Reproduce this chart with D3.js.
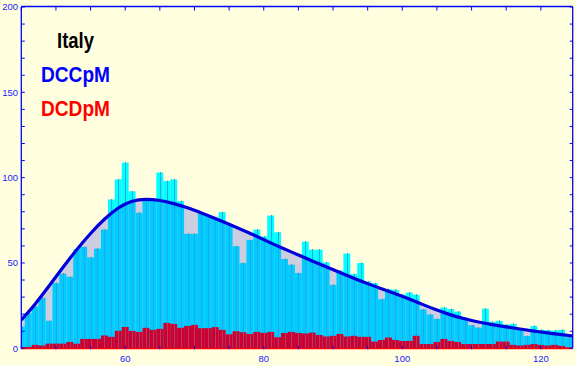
<!DOCTYPE html>
<html>
<head>
<meta charset="utf-8">
<script src="https://cdn.jsdelivr.net/npm/d3@7"></script>
<style>
  html, body { margin: 0; padding: 0; background: #FFFFE0; }
  svg { display: block; }
</style>
</head>
<body>
<div id="chart"></div>
<script>
// age (one bar per unit)
const ages = [45, 46, 47, 48, 49, 50, 51, 52, 53, 54, 55, 56, 57, 58, 59, 60, 61, 62, 63, 64,
  65, 66, 67, 68, 69, 70, 71, 72, 73, 74, 75, 76, 77, 78, 79, 80, 81, 82, 83, 84,
  85, 86, 87, 88, 89, 90, 91, 92, 93, 94, 95, 96, 97, 98, 99, 100, 101, 102, 103, 104,
  105, 106, 107, 108, 109, 110, 111, 112, 113, 114, 115, 116, 117, 118, 119, 120, 121, 122, 123, 124];

const dccpm = [12.7, 20.6, 24.5, 29.6, 16.1, 38.2, 43.7, 41.9, 58, 59.4,
  53.3, 58.4, 69.6, 87.2, 99, 108.8, 92, 79.4, 87.5, 87,
  103, 98, 99, 86.3, 67.1, 67.1, 79, 77.5, 76.5, 79.8,
  72, 59.8, 50, 63.5, 69.6, 65.5, 77.8, 68, 52.3, 49,
  44.1, 62.5, 57.8, 57.8, 50.4, 37.2, 45.5, 55.5, 43.5, 50,
  39.2, 38.2, 28.8, 34.7, 34.3, 31.5, 32.7, 31.4, 22.8, 19.8,
  17.2, 23.9, 23, 21.5, 18, 13.5, 12.1, 23.2, 15.5, 16.1,
  13.9, 14.3, 11.5, 7.2, 13.1, 10.8, 10.6, 10.4, 10.8, 6.5];

const dcdpm = [0.8, 0.8, 2, 1.6, 2.7, 2.7, 2.7, 3.7, 2.7, 5.5,
  5.5, 5.5, 7.5, 6.7, 10.2, 12.5, 10.2, 9.6, 12, 10.8,
  11.4, 14.9, 14.3, 12, 13.1, 13.7, 11.8, 11.8, 12.4, 10.8,
  8.2, 10, 9.4, 8.4, 9.6, 9, 9.6, 6.5, 9, 9.6,
  9, 8.7, 9.2, 7.8, 6.9, 7.3, 8.4, 6.9, 7.3, 6.7,
  6.7, 3.9, 4.9, 6.3, 4.9, 4.3, 4.3, 7.3, 2.5, 2.5,
  3.7, 5.5, 4.3, 3.7, 2.5, 2.5, 2.5, 2.5, 2.5, 3.9,
  3.9, 2, 1.6, 2, 2.5, 2, 1.6, 2, 1.4, 0.6];

// fitted curve
const fitX = [45, 47, 49, 51, 53, 55, 57, 59, 61, 63, 65, 67, 69, 71, 73, 75, 77, 79, 81, 83,
  85, 87, 89, 91, 93, 95, 97, 99, 101, 103, 105, 107, 109, 111, 113, 115, 117, 119, 121, 123, 124.6];
const fitY = [16.6, 26, 36.5, 47.3, 57.8, 67.3, 75.6, 82.2, 86.2, 87.3, 86.6, 84.8, 82.3, 79.3, 76.1, 72.7, 69.2, 65.6, 61.8, 58.2,
  54.7, 51.2, 47.8, 44.4, 41.1, 37.9, 34.9, 32.0, 28.9, 25.6, 22.4, 19.6, 17.3, 15.4, 13.9, 12.6, 11.3, 10.1, 9.0, 8.0, 7.2];

const xTicksLabeled = [60, 80, 100, 120];
const yTicksLabeled = [0, 50, 100, 150, 200];

const W = 576, H = 366;
const pLeft = 21.3, pRight = 572.7, pTop = 7, pBottom = 348.3;

const x = d3.scaleLinear().domain([45, 124.6]).range([pLeft, pRight]);
const y = d3.scaleLinear().domain([0, 200]).range([pBottom, pTop]);

const svg = d3.select("#chart").append("svg")
    .attr("width", W)
    .attr("height", H)
    .style("background", "#FFFFE0");

const defs = svg.append("defs");
const fit = fitX.map((v, i) => [v, fitY[i]]);
const smooth = d3.curveNatural;

// Clip regions: plot box, under the curve, above the curve
defs.append("clipPath").attr("id", "plot")
  .append("rect").attr("x", pLeft).attr("y", pTop).attr("width", pRight - pLeft).attr("height", pBottom - pTop);

const areaUnder = d3.area().x(d => x(d[0])).y0(y(0)).y1(d => y(d[1])).curve(smooth);
const areaOver = d3.area().x(d => x(d[0])).y0(pTop).y1(d => y(d[1])).curve(smooth);

defs.append("clipPath").attr("id", "under").append("path").attr("d", areaUnder(fit));
defs.append("clipPath").attr("id", "over").append("path").attr("d", areaOver(fit));

const g = svg.append("g").attr("clip-path", "url(#plot)");

// gray band under the curve
g.append("path").attr("d", areaUnder(fit)).attr("fill", "#CDCDE0");

const bars = ages.map((a, i) => ({ a: a, v: dccpm[i], r: dcdpm[i] }));

// bars below the curve
g.append("g").attr("clip-path", "url(#under)")
  .selectAll("rect").data(bars).join("rect")
    .attr("x", d => x(d.a - 0.5))
    .attr("width", d => x(d.a + 0.5) - x(d.a - 0.5))
    .attr("y", d => y(d.v))
    .attr("height", d => y(0) - y(d.v))
    .attr("fill", "#00CCFF");

// bar parts above the curve
g.append("g").attr("clip-path", "url(#over)")
  .selectAll("rect").data(bars).join("rect")
    .attr("x", d => x(d.a - 0.5))
    .attr("width", d => x(d.a + 0.5) - x(d.a - 0.5))
    .attr("y", d => y(d.v))
    .attr("height", d => y(0) - y(d.v))
    .attr("fill", "#00FFFF");

// center lines in the bars
g.append("g").selectAll("line").data(bars).join("line")
    .attr("x1", d => Math.round(x(d.a)) + 0.5)
    .attr("x2", d => Math.round(x(d.a)) + 0.5)
    .attr("y1", d => y(d.v))
    .attr("y2", y(0))
    .attr("stroke", "#22A8E6")
    .attr("stroke-width", 1);

// small caps on top of the bars
g.append("g").selectAll("rect").data(bars).join("rect")
    .attr("x", d => Math.round(x(d.a)))
    .attr("y", d => y(d.v) - 0.5)
    .attr("width", 1)
    .attr("height", 1.5)
    .attr("fill", "#7A8A99");

// red bars
g.append("g").selectAll("rect").data(bars).join("rect")
    .attr("x", d => x(d.a - 0.5))
    .attr("width", d => x(d.a + 0.5) - x(d.a - 0.5))
    .attr("y", d => y(d.r))
    .attr("height", d => y(0) - y(d.r))
    .attr("fill", "#CC0033");

g.append("g").selectAll("line").data(bars).join("line")
    .attr("x1", d => Math.round(x(d.a)) + 0.5)
    .attr("x2", d => Math.round(x(d.a)) + 0.5)
    .attr("y1", d => y(d.r))
    .attr("y2", y(0))
    .attr("stroke", "#B0405A")
    .attr("stroke-width", 1);

// fitted curve
g.append("path")
    .attr("d", d3.line().x(d => x(d[0])).y(d => y(d[1])).curve(smooth)(fit))
    .attr("fill", "none")
    .attr("stroke", "#0000DD")
    .attr("stroke-width", 3.2);

// frame
const blue = "#0000FF";
svg.append("line").attr("x1", pLeft).attr("x2", pLeft).attr("y1", pTop).attr("y2", pBottom).attr("stroke", blue).attr("stroke-width", 1.3);
svg.append("line").attr("x1", pRight).attr("x2", pRight).attr("y1", pTop).attr("y2", pBottom).attr("stroke", blue).attr("stroke-width", 1.3);
svg.append("line").attr("x1", pLeft).attr("x2", pRight).attr("y1", pTop - 0.5).attr("y2", pTop - 0.5).attr("stroke", blue).attr("stroke-width", 1.3);
svg.append("line").attr("x1", pLeft).attr("x2", pRight).attr("y1", pBottom + 0.3).attr("y2", pBottom + 0.3).attr("stroke", "#FF0000").attr("stroke-width", 1.3);

// ticks
const yMinor = d3.range(0, 201, 10);
const xMinor = d3.range(45, 125, 5);
svg.append("g").selectAll("line").data(yMinor).join("line")
    .attr("x1", pLeft).attr("x2", pLeft + 3.5)
    .attr("y1", d => y(d)).attr("y2", d => y(d))
    .attr("stroke", blue).attr("stroke-width", 1);
svg.append("g").selectAll("line").data(yMinor).join("line")
    .attr("x1", pRight - 3).attr("x2", pRight)
    .attr("y1", d => y(d)).attr("y2", d => y(d))
    .attr("stroke", blue).attr("stroke-width", 1);
svg.append("g").selectAll("line").data(xMinor).join("line")
    .attr("x1", d => x(d)).attr("x2", d => x(d))
    .attr("y1", pTop).attr("y2", pTop + 3.5)
    .attr("stroke", blue).attr("stroke-width", 1);
svg.append("g").selectAll("line").data(xMinor).join("line")
    .attr("x1", d => x(d)).attr("x2", d => x(d))
    .attr("y1", pBottom - 2.5).attr("y2", pBottom + 1)
    .attr("stroke", blue).attr("stroke-width", 1);

// tick labels
const font = "'Liberation Sans', Arial, sans-serif";
svg.append("g").selectAll("text").data(yTicksLabeled).join("text")
    .attr("x", 18)
    .attr("y", d => y(d) + 3.4)
    .attr("text-anchor", "end")
    .attr("font-family", font)
    .attr("font-size", 9.5)
    .attr("fill", "#2222FF")
    .text(d => d);
svg.append("g").selectAll("text").data(xTicksLabeled).join("text")
    .attr("x", d => x(d))
    .attr("y", 361.5)
    .attr("text-anchor", "middle")
    .attr("font-family", font)
    .attr("font-size", 9.5)
    .attr("fill", "#2222FF")
    .text(d => d);

// titles
const labels = [
  { t: "Italy", x: 57, y: 48, c: "#000000", w: 37 },
  { t: "DCCpM", x: 41, y: 81.5, c: "#0000FF", w: 69 },
  { t: "DCDpM", x: 41, y: 116, c: "#FF0000", w: 69 }
];
svg.append("g").selectAll("text").data(labels).join("text")
    .attr("x", d => d.x)
    .attr("y", d => d.y)
    .attr("font-family", font)
    .attr("font-weight", "bold")
    .attr("font-size", 22)
    .attr("fill", d => d.c)
    .attr("textLength", d => d.w)
    .attr("lengthAdjust", "spacingAndGlyphs")
    .text(d => d.t);
</script>
</body>
</html>
